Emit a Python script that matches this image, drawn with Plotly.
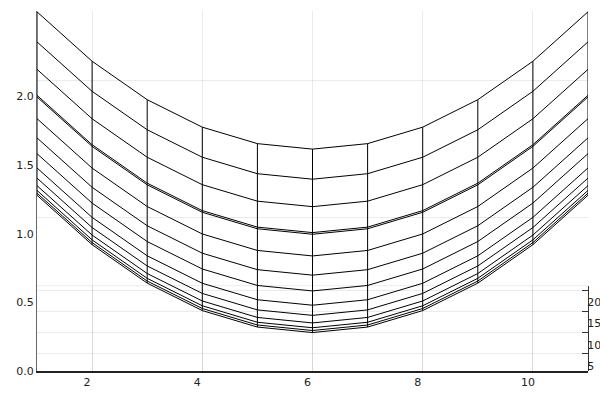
import plotly.graph_objects as go

# ---- data ----
x_vals = list(range(1, 12))
# vertical profile along x (drop relative to minimum at x = 6)
profile = [1.00, 0.64, 0.36, 0.16, 0.04, 0.00, 0.04, 0.16, 0.36, 0.64, 1.00]
# level of each wireframe curve at x = 6 (top to bottom)
levels = [1.616, 1.397, 1.197, 1.008, 0.996, 0.838, 0.698, 0.583, 0.479,
          0.405, 0.350, 0.315, 0.295, 0.280]
x_ticks = [2, 4, 6, 8, 10]
z_ticks = [0.0, 0.5, 1.0, 1.5, 2.0]
z_labels = ["0.0", "0.5", "1.0", "1.5", "2.0"]
depth_ticks = [5, 10, 15, 20]
back_grid = [0.5, 1.5, 2.0]

surface = [[p + lv for p in profile] for lv in levels]

fig = go.Figure()
for row in surface:
    fig.add_trace(go.Scatter(x=x_vals, y=row, mode="lines",
                             line=dict(color="black", width=1),
                             hoverinfo="skip", showlegend=False))
for i, xv in enumerate(x_vals):
    col = sorted(row[i] for row in surface)
    fig.add_trace(go.Scatter(x=[xv] * len(col), y=col, mode="lines",
                             line=dict(color="black", width=1),
                             hoverinfo="skip", showlegend=False))
# empty traces to activate the extra axes
fig.add_trace(go.Scatter(x=[None], y=[None], yaxis="y2", showlegend=False,
                         hoverinfo="skip"))
fig.add_trace(go.Scatter(x=[None], y=[None], yaxis="y3", showlegend=False,
                         hoverinfo="skip"))

grid = "rgba(0,0,0,0.08)"
tickfont = dict(family="DejaVu Sans", size=11, color="#222")

fig.update_layout(
    width=600, height=400,
    margin=dict(l=37, r=12, t=11, b=29),
    paper_bgcolor="white", plot_bgcolor="rgba(0,0,0,0)",
    showlegend=False,
    xaxis=dict(range=[1, 11], tickvals=x_ticks, showgrid=True, gridcolor=grid,
               gridwidth=1, zeroline=False, showline=True, linecolor="#222",
               linewidth=1.5, ticks="", tickfont=tickfont, ticklabelshift=-5,
               automargin=False),
    yaxis=dict(range=[0, 2.622], tickvals=z_ticks, ticktext=z_labels,
               showgrid=False, zeroline=False, showline=True,
               linecolor="#666", linewidth=1, ticks="", tickfont=tickfont,
               automargin=False),
    yaxis2=dict(domain=[0, 0.237], range=[0.94, 21.1], tickvals=depth_ticks,
                side="right", anchor="x", showgrid=True, gridcolor=grid,
                zeroline=False, showline=True, linecolor="#333", linewidth=1,
                ticks="inside", ticklen=6, tickcolor="#333",
                tickfont=tickfont, ticklabelshift=12, ticklabelstandoff=-4,
                automargin=False),
    yaxis3=dict(overlaying="y", range=[-0.618, 2.004], tickvals=back_grid,
                showticklabels=False, showgrid=True, gridcolor=grid,
                zeroline=False, showline=False, ticks="", automargin=False,
                side="left"),
    shapes=[dict(type="line", xref="x domain", yref="y2 domain",
                 x0=0, x1=1, y0=1, y1=1, layer="below",
                 line=dict(color=grid, width=1))],
)

fig.write_html(
    "out.html",
    config={"displayModeBar": False},
    post_script="document.body.style.margin='0';"
                "document.body.style.overflow='hidden';",
)
